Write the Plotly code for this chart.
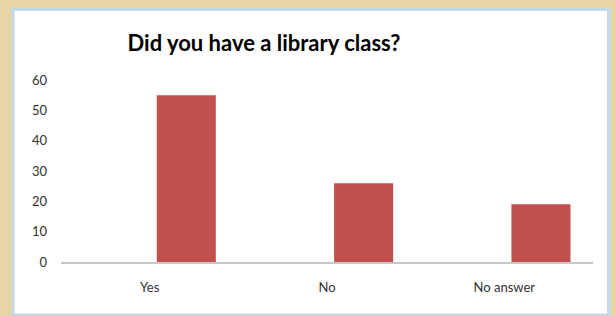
import plotly.graph_objects as go

categories = ["Yes", "No", "No answer"]
values = [55, 26, 19]
y_ticks = [0, 10, 20, 30, 40, 50, 60]

W, H = 615, 316
L, R, T, B = 61, 593, 80, 262  # plot area in pixels


def px(x):
    return (x - L) / (R - L)


def py(y):
    return (B - y) / (B - T)


fig = go.Figure()
fig.add_trace(go.Bar(
    x=categories, y=values,
    marker=dict(color="#c0504d", line=dict(width=0)),
    width=0.333, offset=0.04,
    hoverinfo="x+y",
))

shapes = [
    # white chart area with light-blue frame
    dict(type="rect", xref="paper", yref="paper",
         x0=px(11.5), x1=px(610.5), y0=py(316), y1=py(8),
         fillcolor="#b9ddf0", line=dict(width=0), layer="below"),
    dict(type="rect", xref="paper", yref="paper",
         x0=px(13.5), x1=px(608), y0=py(314.5), y1=py(10),
         fillcolor="#d4d4d4", line=dict(width=0), layer="below"),
    dict(type="rect", xref="paper", yref="paper",
         x0=px(14.5), x1=px(607), y0=py(313.5), y1=py(11),
         fillcolor="#ffffff", line=dict(width=0), layer="below"),
]

fig.update_layout(
    width=W, height=H,
    margin=dict(l=L, r=W - R, t=T, b=H - B, pad=0),
    paper_bgcolor="#e8d3a3",
    plot_bgcolor="rgba(0,0,0,0)",
    shapes=shapes,
    showlegend=False,
    title=dict(
        text="<b>Did you have a library class?</b>",
        font=dict(family="Lato, Open Sans, sans-serif", size=22, color="#000000"),
        xref="paper", x=px(264), xanchor="center",
        yref="container", y=1 - 43 / H, yanchor="middle",
    ),
    font=dict(family="Lato, Open Sans, sans-serif", size=12, color="#404040"),
    xaxis=dict(
        type="category", categoryorder="array", categoryarray=categories,
        showgrid=False, zeroline=False, showline=True,
        linecolor="#c8c8c8", linewidth=2, ticks="",
        ticklabelstandoff=12,
        tickfont=dict(size=13, color="#333333"),
        range=[-0.5, 2.5],
    ),
    yaxis=dict(
        range=[0, 60], tickvals=y_ticks, showgrid=False, zeroline=False,
        showline=False, ticks="", ticklabelstandoff=13,
        tickfont=dict(size=13, color="#333333"),
    ),
)

fig.write_html(
    "out.html",
    config={"displayModeBar": False},
    post_script="document.body.style.margin='0';document.body.style.background='#e8d3a3';",
)
